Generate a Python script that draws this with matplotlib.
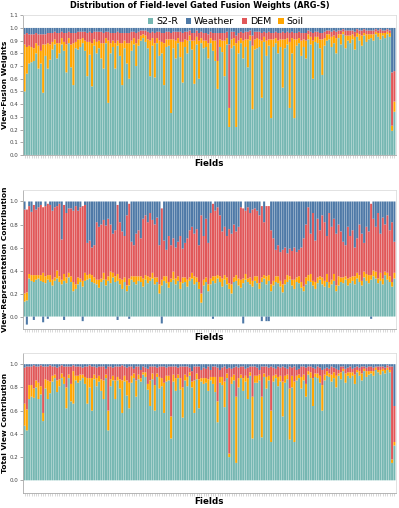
import numpy as np
import matplotlib
matplotlib.use("Agg")
import matplotlib.pyplot as plt
from matplotlib.patches import Patch

series = ["S2-R", "Weather", "DEM", "Soil"]
colors = {"S2-R": "#76b7b2", "Weather": "#4e79a7", "DEM": "#e15759", "Soil": "#ffa500"}

# ---------------- Panel 1: View-Fusion Weights (percent) ----------------
w_s2r = [50,64,72,73,74,80,68,72,49,78, 68,75,83,87,76,80,87,82,65,88,
         69,55,84,83,85,88,82,62,79,54, 86,80,84,76,68,88,41,80,85,68,
         86,78,55,84,72,60,82,87,70,86, 90,92,89,84,62,86,61,88,78,80,
         55,85,86,33,84,76,88,77,57,85, 80,90,83,56,87,60,88,84,85,76,
         88,82,74,52,85,81,62,87,22,84, 86,22,80,88,76,85,69,90,36,83,
         84,85,45,89,78,86,29,85,88,80, 85,53,84,87,37,80,29,86,88,78,
         85,76,91,87,60,89,88,84,63,86, 90,91,85,88,80,92,87,95,84,90,
         88,91,83,93,90,86,94,89,91,92, 90,95,93,91,94,92,95,93,19,34]
w_soil = [37,21,14,12,10,8,18,10,38,9, 20,12,6,4,12,8,5,7,22,4,
          18,33,5,8,6,4,8,27,10,34, 5,9,6,12,20,4,49,8,5,20,
          4,10,33,6,16,28,8,5,18,5, 4,3,5,7,28,6,27,4,12,9,
          33,6,5,58,7,14,4,12,32,6, 10,4,7,34,6,30,4,6,5,12,
          4,8,16,22,6,9,28,5,15,7, 6,66,10,4,14,6,22,4,50,8,
          8,6,45,4,12,5,62,6,4,10, 6,38,7,5,52,12,62,5,4,12,
          6,14,4,6,30,4,5,7,28,6, 5,4,8,6,12,3,8,2,10,4,
          6,4,10,3,5,8,2,6,4,3, 5,2,3,5,2,4,2,3,4,8]
w_dem = [8,11,9,10,11,8,9,13,8,8, 8,9,7,6,8,8,5,7,9,5,
         9,8,7,6,6,5,7,7,8,8, 6,8,7,9,8,5,7,8,6,8,
         7,8,8,6,8,8,7,5,8,6, 4,3,4,6,6,5,8,5,7,7,
         8,6,6,5,6,7,5,8,7,6, 7,4,6,6,5,6,5,6,6,7,
         5,6,6,22,5,6,6,5,50,6, 5,6,6,5,6,6,6,4,8,6,
         5,6,6,4,6,6,5,5,5,6, 5,6,5,5,7,5,5,5,5,6,
         5,6,3,4,6,4,4,5,5,5, 3,3,4,4,5,3,3,2,4,4,
         4,3,4,3,3,4,3,3,3,3, 3,2,2,3,2,2,2,2,42,24]
w_weather = [5,4,5,5,5,4,5,5,5,5, 4,4,4,3,4,4,3,4,4,3,
             4,4,4,3,3,3,3,4,3,4, 3,3,3,3,4,3,3,4,4,4,
             3,4,4,4,4,4,3,3,4,3, 2,2,2,3,4,3,4,3,3,4,
             4,3,3,4,3,3,3,3,4,3, 3,2,4,4,2,4,3,4,4,5,
             3,4,4,4,4,4,4,3,13,3, 3,6,4,3,4,3,3,2,6,3,
             3,3,4,3,4,3,4,4,3,4, 4,3,4,3,4,3,4,4,3,4,
             4,4,2,3,4,3,3,4,4,3, 2,2,3,2,3,2,2,1,2,2,
             2,2,3,1,2,2,1,2,2,2, 2,1,2,1,2,2,1,2,35,34]

# ---------------- Panel 2: View-Representation Contribution (percent) ----------------
r_s2r = [13,14,33,31,30,32,33,31,30,29, 32,30,27,31,33,30,28,31,29,34,
         30,22,24,28,30,26,31,32,33,30, 29,28,25,30,32,27,31,29,34,30,
         31,28,24,30,22,27,32,30,28,31, 30,26,32,29,31,33,28,30,20,27,
         31,29,25,30,32,28,31,24,29,30, 26,31,33,28,30,24,12,27,30,22,
         28,31,29,33,30,26,32,28,24,20, 30,31,27,25,29,32,30,28,26,31,
         29,24,30,33,28,31,22,27,30,29, 26,21,28,30,32,27,24,30,29,25,
         22,28,31,30,27,24,29,32,28,26, 30,25,28,31,22,27,30,29,32,27,
         29,31,28,33,30,27,34,31,29,32, 35,33,29,31,28,36,32,30,26,33]
r_soil = [7,7,4,5,6,4,3,5,8,6, 4,6,5,3,7,5,4,6,5,4,
          5,8,4,6,3,5,7,4,4,6, 5,4,7,3,6,5,4,10,4,5,
          6,5,8,4,5,6,3,5,7,4, 5,7,4,6,3,5,6,4,8,5,
          4,6,5,3,7,5,4,6,5,4, 6,3,5,7,4,6,8,5,4,6,
          5,4,6,3,5,7,4,6,5,8, 4,5,6,7,4,5,3,6,5,4,
          6,5,4,3,7,5,6,4,5,6, 5,7,4,6,3,5,8,4,6,5,
          4,6,5,7,4,6,5,3,6,5, 7,5,4,6,5,8,4,5,3,6,
          5,4,7,5,6,4,5,6,7,4, 5,6,4,7,5,3,6,5,4,5]
r_dem = [73,72,59,55,61,57,59,61,57,61, 62,61,60,61,56,63,35,60,56,56,
         59,62,68,58,62,65,59,28,29,24, 28,50,46,47,46,47,50,41,34,40,
         60,49,42,36,61,65,30,27,37,40, 33,52,52,47,56,46,46,52,34,62,
         31,23,40,29,29,27,30,40,25,30, 36,41,40,37,42,32,68,38,51,36,
         57,63,57,59,53,41,42,36,47,44, 46,38,45,63,61,55,62,56,62,59,
         57,59,62,46,61,60,47,37,23,27, 25,30,28,19,24,25,28,22,23,30,
         42,46,59,35,59,36,51,40,54,51, 33,60,46,48,45,45,40,31,27,45,
         36,40,25,30,44,41,25,41,38,62, 45,39,57,34,53,41,50,40,52,27]
r_weather = [7,-7,4,9,-3,7,5,3,-5,4, -2,3,8,5,4,2,33,-3,10,6,
             6,8,4,8,5,-4,3,36,34,40, 38,18,22,20,16,21,15,20,28,25,
             -3,18,26,30,12,-2,35,38,28,25, 32,15,12,18,10,16,20,14,38,-6,
             34,42,30,38,32,40,35,30,41,36, 32,25,22,28,24,38,12,30,15,36,
             10,-2,8,5,12,26,22,30,24,28, 20,26,22,5,-6,8,5,10,7,6,
             8,12,-4,18,-4,-4,25,32,42,38, 44,42,40,45,41,43,40,44,42,40,
             32,20,5,28,10,34,15,25,12,18, 30,10,22,15,28,20,26,35,38,22,
             30,25,40,32,20,28,36,22,26,-2, 15,22,10,28,14,20,12,25,18,35]

# ---------------- Panel 3: Total View Contribution (percent) ----------------
t_s2r = [47,43,70,72,71,80,70,74,51,79, 70,75,85,88,76,81,88,83,62,88,
         68,66,86,84,86,88,83,66,80,60, 87,81,85,77,70,88,43,81,86,70,
         86,79,58,85,73,62,84,88,72,87, 85,91,89,78,64,87,60,89,79,81,
         58,85,86,36,85,77,88,78,54,86, 81,90,80,58,87,62,85,83,84,77,
         86,83,76,50,84,82,63,88,20,83, 86,15,80,88,77,85,70,90,36,84,
         84,86,37,89,79,86,33,85,88,81, 85,55,84,87,35,80,33,86,88,79,
         86,72,91,88,64,89,88,84,60,86, 90,89,85,88,80,90,87,94,84,90,
         88,90,83,93,90,86,94,89,91,92, 90,95,93,91,94,92,95,93,15,30]
t_soil = [19,18,12,10,8,6,14,7,7,8, 16,10,5,3,10,6,4,6,18,3,
          15,28,4,6,5,3,6,22,8,28, 4,7,5,10,16,3,17,6,4,16,
          3,8,28,5,13,22,6,4,14,4, 3,2,4,5,22,5,22,3,10,7,
          26,5,4,19,6,11,3,10,26,5, 8,3,5,28,5,25,3,5,4,10,
          3,6,13,18,5,7,22,4,3,6, 5,57,8,3,11,5,18,3,36,6,
          6,5,35,3,10,4,27,5,3,8, 5,30,6,4,44,10,52,4,3,10,
          5,11,3,5,24,3,4,6,22,5, 4,3,6,5,10,2,6,2,8,3,
          5,3,8,2,4,6,2,5,3,2, 4,2,2,4,2,3,2,2,3,3]
t_dem = [31,37,16,16,20,12,14,18,40,11, 12,14,8,7,11,11,7,9,18,7,
         15,5,8,8,7,6,9,10,11,10, 7,9,8,11,12,5,38,11,7,12,
         9,11,13,8,11,14,8,4,12,7, 7,5,4,13,12,6,16,5,9,10,
         14,7,8,43,7,10,6,10,18,7, 9,4,9,12,6,11,7,9,8,11,
         6,9,9,29,6,8,13,4,74,7, 6,26,9,7,10,6,9,5,26,8,
         7,4,26,6,9,7,38,7,5,9, 7,13,7,5,19,7,13,5,5,9,
         7,14,4,5,9,4,6,7,13,5, 3,4,7,4,6,3,5,2,4,4,
         5,3,6,3,3,6,2,3,4,4, 3,1,3,3,2,2,2,3,80,31]
t_weather = [3,2,2,2,1,2,2,1,2,2, 2,1,2,2,3,2,1,2,2,2,
             2,1,2,2,2,3,2,2,1,2, 2,3,2,2,2,4,2,2,3,2,
             2,2,1,2,3,2,2,4,2,2, 5,2,3,4,2,2,2,3,2,2,
             2,3,2,2,2,2,3,2,2,2, 2,3,6,2,2,2,5,3,4,2,
             5,2,2,3,5,3,2,4,3,4, 3,2,3,2,2,4,3,2,2,2,
             3,5,2,2,2,3,2,3,4,2, 3,2,3,4,2,3,2,5,4,2,
             2,3,2,2,3,4,2,3,5,4, 3,4,2,3,4,5,2,2,4,3,
             2,4,3,2,3,2,2,3,2,2, 3,2,2,2,2,3,1,2,2,36]

panels = [
    ({"S2-R": w_s2r, "Soil": w_soil, "DEM": w_dem, "Weather": w_weather},
     "View-Fusion Weights", (0, 1.1), np.arange(0, 1.11, 0.1)),
    ({"S2-R": r_s2r, "Soil": r_soil, "DEM": r_dem, "Weather": r_weather},
     "View-Representation Contribution", (-0.11, 1.10), np.arange(0, 1.01, 0.2)),
    ({"S2-R": t_s2r, "Soil": t_soil, "DEM": t_dem, "Weather": t_weather},
     "Total View Contribution", (-0.107, 1.10), np.arange(0, 1.01, 0.2)),
]
rects = [(0.058, 0.695, 0.934, 0.275),
         (0.058, 0.352, 0.934, 0.274),
         (0.058, 0.030, 0.934, 0.276)]

fig = plt.figure(figsize=(3.99, 5.08), dpi=100)
fig.text(0.5, 1 - 6 / 508, "Distribution of Field-level Gated Fusion Weights (ARG-S)",
         ha="center", va="center", fontsize=5.9, fontweight="bold")

for (data, ylabel, ylim, yticks), rect in zip(panels, rects):
    ax = fig.add_axes(rect)
    n = len(data["S2-R"])
    x = np.arange(n)
    pos = np.zeros(n)
    neg = np.zeros(n)
    for name in ["S2-R", "Soil", "DEM", "Weather"]:
        v = np.array(data[name], dtype=float) / 100.0
        bottom = np.where(v >= 0, pos, neg)
        ax.bar(x, v, bottom=bottom, width=0.88, color=colors[name], linewidth=0,
               snap=False)
        pos = pos + np.where(v >= 0, v, 0)
        neg = neg + np.where(v < 0, v, 0)
    ax.set_xlim(-0.6, n - 0.4)
    ax.set_ylim(*ylim)
    ax.set_yticks(yticks)
    ax.set_yticklabels([f"{t:.1f}" for t in yticks])
    ax.set_xticks(x)
    ax.set_xticklabels([])
    ax.tick_params(axis="x", length=2, width=0.4, color="#bbbbbb")
    ax.tick_params(axis="y", length=2, width=0.5, color="#888888", labelsize=4,
                   labelcolor="#444444", pad=1.5)
    for side in ["top", "right"]:
        ax.spines[side].set_color("#dddddd")
        ax.spines[side].set_linewidth(0.6)
    for side in ["left", "bottom"]:
        ax.spines[side].set_color("#aaaaaa")
        ax.spines[side].set_linewidth(0.6)
    ax.set_xlabel("Fields", fontsize=6.3, fontweight="bold")
    ax.xaxis.set_label_coords(0.5, -0.028)
    ax.set_ylabel(ylabel, fontsize=5.4, fontweight="bold")
    ax.yaxis.set_label_coords(-0.041, 0.5)

    if ylabel == "View-Fusion Weights":
        handles = [Patch(facecolor=colors[s], edgecolor="none", label=s) for s in series]
        ax.legend(handles=handles, loc="center", ncol=4, fontsize=6.8,
                  bbox_to_anchor=(0.544, 0.952), borderaxespad=0.0,
                  handlelength=0.55, handleheight=0.55, handletextpad=0.3,
                  columnspacing=0.8, frameon=False, borderpad=0.1)

fig.savefig("out.png", dpi=100)
